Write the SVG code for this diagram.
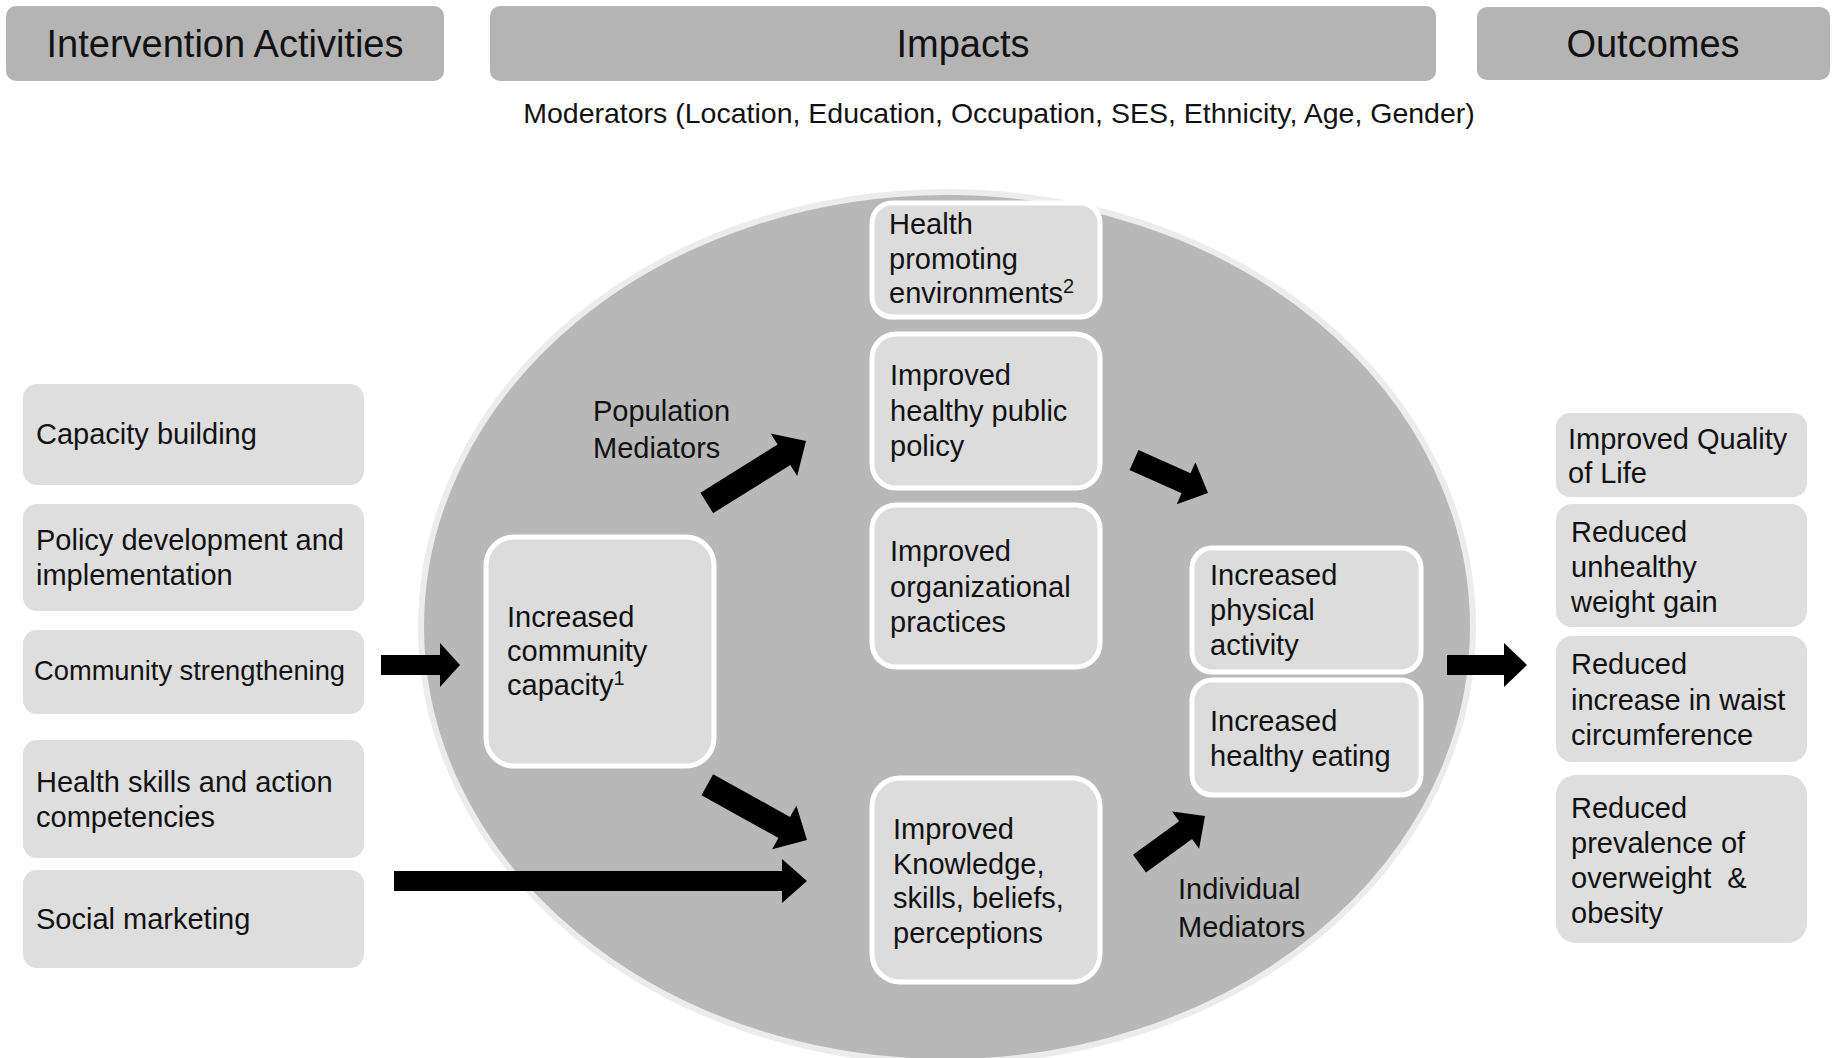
<svg xmlns="http://www.w3.org/2000/svg" width="1842" height="1058" viewBox="0 0 1842 1058">
<style>
text{font-family:"Liberation Sans",Arial,sans-serif;fill:#111}
.hdr{fill:#b4b4b4}
.ht{font-size:38px;text-anchor:middle}
.side{fill:#dedede}
.node{fill:#dcdcdc;stroke:#ffffff;stroke-width:5}
.t{font-size:29px}
.sup{font-size:20px}
.arrow{fill:#000}
</style>
<rect width="1842" height="1058" fill="#ffffff"/>
<g id="headers">
<g id="h-intervention"><rect class="hdr" x="6" y="6" width="438" height="75" rx="10"/><text class="ht" x="225" y="57">Intervention Activities</text></g>
<g id="h-impacts"><rect class="hdr" x="490" y="6" width="946" height="75" rx="10"/><text class="ht" x="963" y="57">Impacts</text></g>
<g id="h-outcomes"><rect class="hdr" x="1477" y="7" width="353" height="73" rx="10"/><text class="ht" x="1653" y="57">Outcomes</text></g>
<text id="moderators" x="999" y="123" font-size="28.5" text-anchor="middle">Moderators (Location, Education, Occupation, SES, Ethnicity, Age, Gender)</text>
</g>
<g id="ellipse"><ellipse cx="947" cy="627" rx="526" ry="435" fill="#b8b8b8" stroke="#ececec" stroke-width="6"/></g>
<g id="activities">
<g id="a1"><rect class="side" x="23" y="384" width="341" height="101" rx="14"/><text class="t" x="36" y="444">Capacity building</text></g>
<g id="a2"><rect class="side" x="23" y="504" width="341" height="107" rx="14"/><text class="t" x="36" y="550">Policy development and</text><text class="t" x="36" y="585">implementation</text></g>
<g id="a3"><rect class="side" x="23" y="630" width="341" height="84" rx="14"/><text x="34" y="680" font-size="27.3">Community strengthening</text></g>
<g id="a4"><rect class="side" x="23" y="740" width="341" height="118" rx="14"/><text class="t" x="36" y="792">Health skills and action</text><text class="t" x="36" y="827">competencies</text></g>
<g id="a5"><rect class="side" x="23" y="870" width="341" height="98" rx="14"/><text class="t" x="36" y="929">Social marketing</text></g>
</g>
<g id="mediators">
<g id="n-capacity"><rect class="node" x="486" y="537" width="228" height="229" rx="28"/><text class="t" x="507" y="627">Increased</text><text class="t" x="507" y="661">community</text><text class="t" x="507" y="695">capacity<tspan class="sup" dy="-10">1</tspan></text></g>
<g id="n-env"><rect class="node" x="872" y="203" width="228" height="114" rx="20"/><text class="t" x="889" y="234">Health</text><text class="t" x="889" y="269">promoting</text><text class="t" x="889" y="303">environments<tspan class="sup" dy="-10">2</tspan></text></g>
<g id="n-policy"><rect class="node" x="872" y="334" width="228" height="154" rx="24"/><text class="t" x="890" y="385">Improved</text><text class="t" x="890" y="421">healthy public</text><text class="t" x="890" y="456">policy</text></g>
<g id="n-org"><rect class="node" x="872" y="505" width="228" height="162" rx="24"/><text class="t" x="890" y="561">Improved</text><text class="t" x="890" y="597">organizational</text><text class="t" x="890" y="632">practices</text></g>
<g id="n-knowledge"><rect class="node" x="872" y="778" width="228" height="204" rx="28"/><text class="t" x="893" y="839">Improved</text><text class="t" x="893" y="874">Knowledge,</text><text class="t" x="893" y="908">skills, beliefs,</text><text class="t" x="893" y="943">perceptions</text></g>
<g id="n-activity"><rect class="node" x="1192" y="548" width="229" height="124" rx="20"/><text class="t" x="1210" y="585">Increased</text><text class="t" x="1210" y="620">physical</text><text class="t" x="1210" y="655">activity</text></g>
<g id="n-eating"><rect class="node" x="1192" y="680" width="229" height="115" rx="20"/><text class="t" x="1210" y="731">Increased</text><text class="t" x="1210" y="766">healthy eating</text></g>
<g id="l-population"><text class="t" x="593" y="421">Population</text><text class="t" x="593" y="458">Mediators</text></g>
<g id="l-individual"><text class="t" x="1178" y="899">Individual</text><text class="t" x="1178" y="937">Mediators</text></g>
</g>
<g id="outcomes">
<g id="o1"><rect class="side" x="1556" y="413" width="251" height="84" rx="14"/><text class="t" x="1568" y="449">Improved Quality</text><text class="t" x="1568" y="483">of Life</text></g>
<g id="o2"><rect class="side" x="1556" y="504" width="251" height="123" rx="16"/><text class="t" x="1571" y="542">Reduced</text><text class="t" x="1571" y="577">unhealthy</text><text class="t" x="1571" y="612">weight gain</text></g>
<g id="o3"><rect class="side" x="1556" y="636" width="251" height="126" rx="16"/><text class="t" x="1571" y="674">Reduced</text><text class="t" x="1571" y="710">increase in waist</text><text class="t" x="1571" y="745">circumference</text></g>
<g id="o4"><rect class="side" x="1556" y="775" width="251" height="168" rx="20"/><text class="t" x="1571" y="818">Reduced</text><text class="t" x="1571" y="853">prevalence of</text><text class="t" x="1571" y="888">overweight&#160; &amp;</text><text class="t" x="1571" y="923">obesity</text></g>
</g>
<g id="connectors">
<path class="arrow" d="M381,655 H440 V643 L460,665 L440,687 V675 H381 Z"/>
<path class="arrow" d="M394,871 H782 V859 L807,881 L782,903 V891 H394 Z"/>
<path class="arrow" d="M1447,655 H1504 V643 L1527,665 L1504,687 V675 H1447 Z"/>
<path class="arrow" transform="translate(806,441) rotate(-32)" d="M-117,-12 H-26 V-25 L0,0 L-26,25 V12 H-117 Z"/>
<path class="arrow" transform="translate(807,840) rotate(29)" d="M-114,-12 H-26 V-25 L0,0 L-26,25 V12 H-114 Z"/>
<path class="arrow" transform="translate(1208,493) rotate(24)" d="M-81,-11 H-24 V-23 L0,0 L-24,23 V11 H-81 Z"/>
<path class="arrow" transform="translate(1205,816) rotate(-36)" d="M-81,-11 H-24 V-23 L0,0 L-24,23 V11 H-81 Z"/>
</g>
</svg>
